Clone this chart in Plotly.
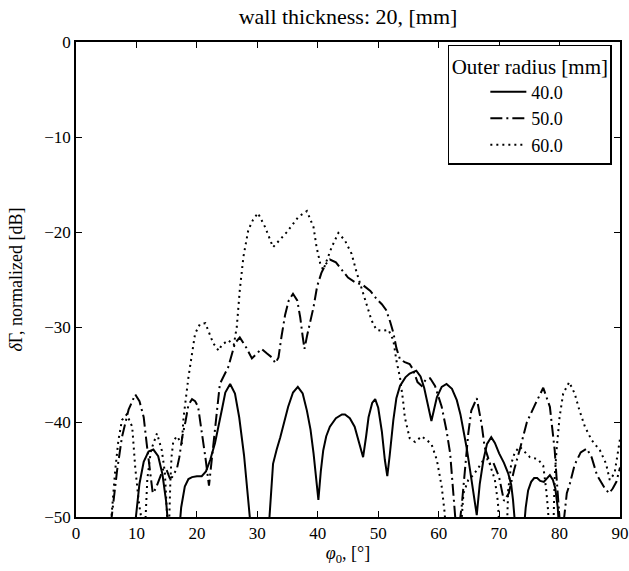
import plotly.graph_objects as go

title_text = "wall thickness: 20, [mm]"
legend_title = "Outer radius [mm]"
series_names = ["40.0", "50.0", "60.0"]

# 40.0 mm (solid)
x40 = [9.4, 9.9, 10.5, 11.2, 12.0, 12.8, 13.6, 14.3, 14.9, 15.4,
       17.0, 17.4, 18.0, 18.6, 19.2, 20.0, 20.8, 21.5, 22.2, 23.0, 23.6, 24.2, 24.7, 25.5, 26.3, 27.0, 27.8, 28.4, 28.9,
       31.8, 32.2, 32.6, 33.2, 33.8, 35.1, 35.9, 36.7, 37.5, 38.2, 38.8, 39.3, 39.8, 40.1, 40.5, 40.9, 41.4, 42.0, 43.0,
       44.0, 44.5, 45.3, 46.1, 46.9, 47.5, 48.0, 48.4, 49.0, 49.5, 50.0, 50.6, 51.1, 51.5, 51.9, 52.5, 53.0, 53.6, 54.5,
       55.2, 56.3, 57.0, 57.6, 58.3, 58.8, 59.2, 59.7, 60.5, 61.3, 62.2, 63.0, 63.6, 64.0, 64.6, 65.2, 65.8, 66.3, 66.8,
       67.4, 68.0, 68.7, 69.3, 70.0, 70.8, 71.5, 72.0, 72.3, 72.8,
       74.0, 74.4, 74.8, 75.3, 75.8, 76.3, 76.8, 77.4, 77.9, 78.4, 78.9, 79.3, 79.7, 80.0]
y40 = [-53, -50, -46.5, -44.2, -43.1, -42.9, -43.6, -45.5, -48.3, -52,
       -52, -49, -46.8, -46.0, -45.8, -45.7, -45.7, -45.2, -44.0, -42.2, -40.5, -38.5, -36.9, -36.0, -37.0, -39.5, -43.5, -47.5, -51,
       -52, -48, -44.4, -42.9, -41.6, -38.4, -36.9, -36.3, -37.0, -38.8, -40.8, -43.3, -46.3, -48.2, -45.2, -43.0, -41.5, -40.5, -39.6,
       -39.2, -39.2, -39.6, -40.5, -42.3, -43.7, -41.5, -39.5, -38.0, -37.6, -38.5, -41.0, -44.0, -45.7, -43.5, -39.8, -37.5, -36.2, -35.3,
       -34.9, -34.6, -35.2, -36.4, -38.4, -39.9, -38.8, -37.4, -36.3, -36.0, -36.5, -37.7, -39.2, -40.5, -42.6, -45.1, -47.8, -49.8, -46.5,
       -44.0, -42.3, -41.6, -42.2, -43.3, -44.3, -45.4, -46.6, -48.2, -52,
       -52, -49, -47.2, -46.3, -45.9, -45.9, -46.2, -46.3, -45.9, -45.6, -46.1, -47.0, -49, -52]

# 50.0 mm (dash-dot)
x50 = [5.6, 5.9, 6.8, 7.6, 8.7, 9.8, 10.5, 11.2, 11.7, 12.3, 12.7, 13.2, 13.6, 14.4, 14.9, 15.5, 15.9, 16.7, 17.1, 17.6,
       18.1, 18.6, 19.2, 19.7, 20.2, 20.8, 21.4, 22.0, 22.5, 23.0, 23.8, 25.2, 26.3, 27.1, 28.2, 29.1, 29.9, 30.7, 31.6,
       32.4, 33.0, 33.5, 34.0, 34.6, 35.2, 35.9, 36.6, 37.1, 37.5, 37.8, 38.2, 38.7, 39.3, 39.9, 40.6, 41.3, 42.0, 43.0,
       44.0, 45.0, 46.2, 47.5, 48.7, 49.8, 50.6, 51.3, 52.0, 52.5, 53.0, 53.6, 54.4, 55.2, 55.7, 56.5, 57.2, 57.9, 58.6,
       59.4, 60.5, 61.3, 61.9, 62.4, 62.8, 63.2, 63.8, 64.3, 64.9, 65.4, 66.3, 67.1, 67.6, 68.5, 69.0, 70.0, 70.8, 71.6,
       72.5, 73.5, 74.6, 76.0, 77.3, 78.4, 78.9, 79.2, 79.5, 79.7, 80.1, 80.6, 81.2, 81.7, 82.5, 83.5, 84.5, 85.3, 86.2,
       87.5, 88.2, 88.8, 89.4, 90.0]
y50 = [-53, -50, -45.1, -41.6, -38.7, -37.1, -37.8, -39.5, -42.3, -45.8, -47.5, -47.0, -46.3, -45.0, -44.9, -45.9, -45.8, -44.9, -43.7, -41.5,
       -40.0, -38.2, -37.6, -37.8, -38.4, -40.9, -43.7, -46.7, -43.7, -40.2, -36.0, -34.2, -31.7, -31.1, -32.2, -33.3, -32.8, -32.3, -32.8,
       -33.2, -33.8, -33.2, -31.0, -28.7, -27.2, -26.5, -27.2, -29.0, -31.0, -32.3, -31.0, -29.5, -27.9, -25.7, -24.3, -23.4, -22.9, -23.2,
       -24.0, -24.8, -25.3, -25.6, -26.2, -27.1, -27.6, -28.2, -29.5, -30.6, -32.2, -33.4, -33.7, -33.9, -34.4, -35.8, -36.2, -35.5, -35.4,
       -36.2, -38.4, -40.9, -43.3, -46.8, -50.5, -52, -48.9, -45.4, -41.2, -38.8, -37.5, -40.2, -42.6, -44.4, -44.2, -45.8, -48.3, -47.5,
       -45.0, -42.7, -40.0, -38.1, -36.4, -38.4, -40.9, -43.0, -45.8, -47.9, -51, -51, -47.5, -46.5, -44.5, -43.2, -42.8, -43.7, -45.6,
       -47.0, -47.5, -47.0, -46.3, -44.8]

# 60.0 mm (dotted)
x60 = [5.6, 5.9, 6.5, 7.0, 7.6, 8.4, 9.3, 9.8, 10.4, 10.9, 11.3,
       11.3, 11.8, 12.4, 13.4, 14.2, 14.7, 14.9, 15.2, 15.3,
       15.6, 15.8, 16.1, 16.7, 17.5, 17.8, 18.6, 19.7, 20.5, 21.4, 22.7, 23.6, 24.1, 25.2, 26.1, 26.6, 27.1, 27.7, 28.5, 29.3,
       30.1, 31.3, 32.6, 34.9, 36.8, 38.2, 39.3, 39.8, 40.4, 40.9, 42.3, 43.4, 44.5, 45.6, 46.4, 47.5, 48.9, 49.7, 50.7, 51.7,
       52.5, 53.0, 53.6, 54.1, 54.4, 55.2, 56.1, 57.2, 58.8, 59.7, 60.5, 61.0, 61.3,
       63.5, 64.1, 64.9, 65.7, 66.5, 67.4, 68.2, 69.3, 69.8, 70.2,
       71.2, 71.5, 72.0, 72.6, 73.4, 74.5, 75.1, 76.4, 77.3, 77.8, 78.1, 78.4,
       78.9, 79.2, 79.5, 80.0, 80.6, 81.6, 82.5, 83.3, 84.2, 85.3, 86.7, 87.7, 88.3, 89.1, 89.6, 90.0]
y60 = [-53, -49.7, -45.0, -42.0, -39.8, -39.2, -40.5, -44.8, -48.5, -50.5, -53,
       -53, -46.0, -43.0, -41.2, -43.0, -45.3, -47.7, -50.5, -53,
       -46.5, -43.7, -42.0, -41.5, -42.3, -39.5, -35.3, -30.7, -29.7, -29.6, -31.7, -32.5, -31.9, -31.4, -31.9, -30.0, -26.1, -22.6, -19.8, -18.7,
       -18.0, -19.5, -21.6, -20.0, -18.4, -17.8, -19.5, -21.6, -23.3, -24.0, -21.6, -20.1, -20.9, -22.3, -24.2, -26.5, -29.3, -30.3, -30.4, -30.3,
       -31.4, -33.5, -35.3, -37.7, -39.5, -41.7, -42.1, -41.5, -42.3, -44.0, -46.8, -49.6, -53,
       -53, -47.5, -46.1, -45.6, -44.9, -44.0, -43.9, -46.1, -48.4, -53,
       -53, -47.2, -44.4, -43.2, -42.6, -43.3, -43.7, -43.9, -44.6, -47.2, -49.3, -53,
       -53, -45.8, -43.0, -39.5, -37.0, -35.8, -37.0, -38.8, -40.5, -41.9, -43.0, -44.4, -46.1, -45.4, -43.5, -41.8]

x_ticks = [0, 10, 20, 30, 40, 50, 60, 70, 80, 90]
y_ticks = [0, -10, -20, -30, -40, -50]

SERIF = "Liberation Serif"

fig = go.Figure()
fig.add_trace(go.Scatter(x=x40, y=y40, mode="lines", name=series_names[0],
                         line=dict(color="black", width=2)))
fig.add_trace(go.Scatter(x=x50, y=y50, mode="lines", name=series_names[1],
                         line=dict(color="black", width=2, dash="12px,4px,2px,4px")))
fig.add_trace(go.Scatter(x=x60, y=y60, mode="lines", name=series_names[2],
                         line=dict(color="black", width=2, dash="2px,4px")))

axis_common = dict(showline=True, mirror="ticks", linecolor="black", linewidth=1.5,
                   ticks="inside", ticklen=6, tickwidth=1.2, tickcolor="black",
                   showgrid=False, zeroline=False, automargin=False,
                   tickfont=dict(family=SERIF, size=17, color="black"))

fig.update_layout(
    width=629, height=571,
    margin=dict(l=76, r=9, t=42, b=54, autoexpand=False),
    plot_bgcolor="white", paper_bgcolor="white",
    title=dict(text=title_text, x=0.5, xref="paper", xanchor="center",
               y=1, yref="container", yanchor="top", pad=dict(t=9),
               font=dict(family=SERIF, size=22, color="black")),
    xaxis=dict(range=[0, 90], tickvals=x_ticks,
               title=dict(text="<i>φ</i><sub>0</sub>, [°]", standoff=4,
                          font=dict(family=SERIF, size=18, color="black")),
               **axis_common),
    yaxis=dict(range=[-50, 0], tickvals=y_ticks,
               title=dict(text="<i>δ</i>Γ, normalized [dB]", standoff=17,
                          font=dict(family=SERIF, size=18, color="black")),
               **axis_common),
    legend=dict(x=0.985, y=0.994, xanchor="right", yanchor="top",
                bgcolor="white", bordercolor="black", borderwidth=1.5,
                font=dict(family=SERIF, size=18, color="black"),
                title=dict(text=legend_title, side="top center",
                           font=dict(family=SERIF, size=21, color="black")),
                indentation=36, itemwidth=36, tracegroupgap=0),
    showlegend=True,
)

fig.write_html("out.html", config={"displayModeBar": False},
               post_script="document.body.style.margin='0';document.body.style.overflow='hidden';")
